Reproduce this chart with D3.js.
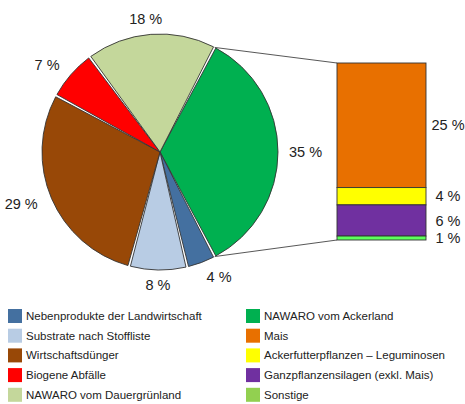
<!DOCTYPE html>
<html>
<head>
<meta charset="utf-8">
<script src="https://cdn.jsdelivr.net/npm/d3@7"></script>
<style>
  body { margin: 0; background: #fff; }
  text { font-family: "Liberation Sans", Arial, sans-serif; fill: #222; }
</style>
</head>
<body>
<svg></svg>
<script>
// pie shares (percent)
const pieNames = ['NAWARO vom Ackerland', 'Nebenprodukte der Landwirtschaft', 'Substrate nach Stoffliste',
  'Wirtschaftsdünger', 'Biogene Abfälle', 'NAWARO vom Dauergrünland'];
const pieValues = [35, 4, 8, 29, 7, 18];
const pieColors = ['#00b050', '#4470a0', '#b8cce4', '#984807', '#ff0000', '#c4d79b'];

// breakdown of NAWARO vom Ackerland (percent)
const barNames = ['Mais', 'Ackerfutterpflanzen – Leguminosen', 'Ganzpflanzensilagen (exkl. Mais)', 'Sonstige'];
const barValues = [25.2, 3.5, 6.3, 0.8];
const barColors = ['#e87000', '#ffff00', '#7030a0', '#5cff5c'];

// legend, two columns
const legendLeft = ['Nebenprodukte der Landwirtschaft', 'Substrate nach Stoffliste', 'Wirtschaftsdünger',
  'Biogene Abfälle', 'NAWARO vom Dauergrünland'];
const legendRight = ['NAWARO vom Ackerland', 'Mais', 'Ackerfutterpflanzen – Leguminosen',
  'Ganzpflanzensilagen (exkl. Mais)', 'Sonstige'];
const legendColor = {
  'Nebenprodukte der Landwirtschaft': '#4470a0', 'Substrate nach Stoffliste': '#b8cce4',
  'Wirtschaftsdünger': '#984807', 'Biogene Abfälle': '#ff0000', 'NAWARO vom Dauergrünland': '#c4d79b',
  'NAWARO vom Ackerland': '#00b050', 'Mais': '#e87000', 'Ackerfutterpflanzen – Leguminosen': '#ffff00',
  'Ganzpflanzensilagen (exkl. Mais)': '#7030a0', 'Sonstige': '#92d050'
};

const width = 465, height = 404;
const svg = d3.select('svg').attr('width', width).attr('height', height);

const cx = 160, cy = 152, r = 118;
const total = d3.sum(pieValues);
const greenSpan = pieValues[0] / total * 2 * Math.PI;
const start = Math.PI / 2 - greenSpan / 2;

const pie = d3.pie().sort(null).value(d => d)
  .startAngle(start).endAngle(start + 2 * Math.PI);
const arcs = pie(pieValues);

const arc = d3.arc().innerRadius(0).outerRadius(r)
  .padAngle(0.022).padRadius(r);

const g = svg.append('g').attr('transform', `translate(${cx},${cy})`);

g.selectAll('path').data(arcs).enter().append('path')
  .attr('d', arc)
  .attr('fill', (d, i) => pieColors[i])
  .attr('stroke', '#333')
  .attr('stroke-width', 0.9);

// pie labels
const labelR = 133;
g.selectAll('text.pl').data(arcs).enter().append('text')
  .attr('class', 'pl')
  .each(function (d) {
    const a = (d.startAngle + d.endAngle) / 2;
    const s = Math.sin(a), c = Math.cos(a);
    const rr = d.index === 0 ? 129 : labelR;
    let x = rr * s;
    if (d.index === 5) x -= 4; // 18 % sits a little left in the original
    d3.select(this)
      .attr('x', x)
      .attr('y', -rr * c)
      .attr('text-anchor', s > 0.3 ? 'start' : (s < -0.3 ? 'end' : 'middle'));
  })
  .attr('dy', '0.35em')
  .attr('font-size', 14.5)
  .text(d => d.data + ' %');

// stacked bar
const barX = 337, barW = 89, barTop = 63, barBottom = 240;
const y = d3.scaleLinear().domain([0, d3.sum(barValues)]).range([barTop, barBottom]);
const cum = d3.cumsum(barValues);
const segs = barValues.map((v, i) => ({ v, y0: cum[i] - v, y1: cum[i], i }));

// connector lines from the green slice to the bar
const a0 = arcs[0].startAngle, a1 = arcs[0].endAngle;
const p0 = [cx + r * Math.sin(a0), cy - r * Math.cos(a0)];
const p1 = [cx + r * Math.sin(a1), cy - r * Math.cos(a1)];
svg.append('line').attr('x1', p0[0]).attr('y1', p0[1]).attr('x2', barX).attr('y2', y(0))
  .attr('stroke', '#444').attr('stroke-width', 0.9);
svg.append('line').attr('x1', p1[0]).attr('y1', p1[1]).attr('x2', barX).attr('y2', y(d3.sum(barValues)))
  .attr('stroke', '#444').attr('stroke-width', 0.9);

svg.selectAll('rect.seg').data(segs).enter().append('rect')
  .attr('class', 'seg')
  .attr('x', barX).attr('width', barW)
  .attr('y', d => y(d.y0))
  .attr('height', d => y(d.y1) - y(d.y0))
  .attr('fill', d => barColors[d.i])
  .attr('stroke', '#333').attr('stroke-width', 0.9);

svg.selectAll('text.bl').data(segs).enter().append('text')
  .attr('class', 'bl')
  .attr('x', 448)
  .attr('y', d => (y(d.y0) + y(d.y1)) / 2)
  .attr('dy', '0.35em')
  .attr('text-anchor', 'middle')
  .attr('font-size', 14.5)
  .text(d => Math.round(d.v) + ' %');

// legend
function legend(items, x0) {
  const lg = svg.append('g');
  items.forEach((name, i) => {
    const yy = 316 + i * 19.7;
    lg.append('rect').attr('x', x0).attr('y', yy - 7).attr('width', 14).attr('height', 14)
      .attr('fill', legendColor[name]);
    lg.append('text').attr('x', x0 + 18).attr('y', yy).attr('dy', '0.35em')
      .attr('font-size', 11.5).text(name);
  });
}
legend(legendLeft, 8);
legend(legendRight, 246);
</script>
</body>
</html>
